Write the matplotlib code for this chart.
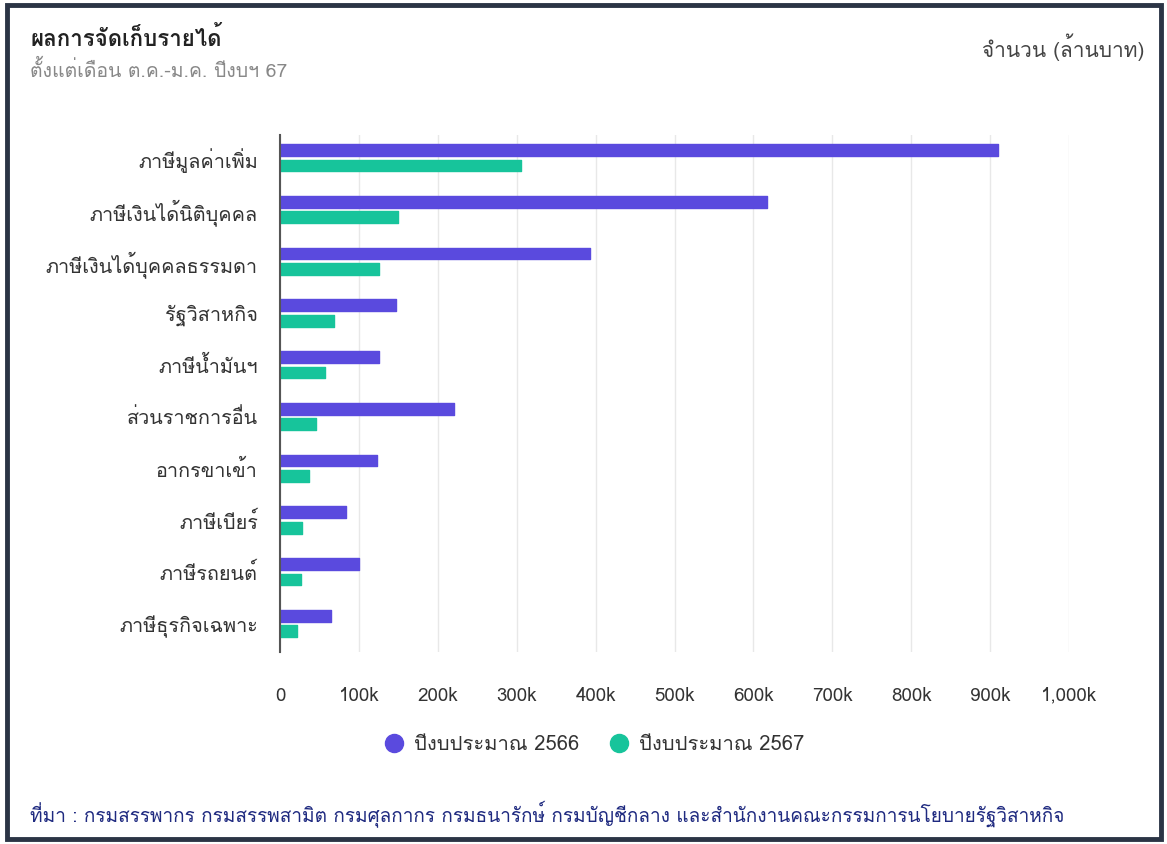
import numpy as np
import matplotlib
matplotlib.use("Agg")
import matplotlib.pyplot as plt
from matplotlib import font_manager
from matplotlib.ft2font import FT2Font
from matplotlib.patches import Rectangle
from matplotlib.ticker import FuncFormatter

# data (ล้านบาท)
categories = ["ภาษีมูลค่าเพิ่ม", "ภาษีเงินได้นิติบุคคล", "ภาษีเงินได้บุคคลธรรมดา", "รัฐวิสาหกิจ",
              "ภาษีน้ำมันฯ", "ส่วนราชการอื่น", "อากรขาเข้า", "ภาษีเบียร์", "ภาษีรถยนต์", "ภาษีธุรกิจเฉพาะ"]
fy2566 = [910000, 617000, 393000, 147000, 126000, 221000, 123000, 84000, 100000, 65000]
fy2567 = [306000, 150000, 126000, 69000, 57000, 46000, 37000, 28000, 26000, 22000]
series_names = ["ปีงบประมาณ 2566", "ปีงบประมาณ 2567"]
xticks = np.arange(0, 1000001, 100000)

purple = "#5a4ade"
green = "#17c49b"


# find a font that has Thai glyphs
def thai_font():
    for f in font_manager.fontManager.ttflist:
        try:
            if 0x0E01 in FT2Font(f.fname).get_charmap():
                return f.name
        except Exception:
            pass
    return None

tf = thai_font()
fams = ([tf] if tf else []) + ["DejaVu Sans"]
plt.rcParams["font.family"] = fams

fig = plt.figure(figsize=(11.67, 8.44), dpi=100)
W, H = 1167, 844

# outer frame
fig.patches.append(Rectangle((7 / W, 5 / H), 1 - 13 / W, 1 - 10 / H, transform=fig.transFigure,
                             fill=False, edgecolor="#2b3445", linewidth=3.5))

ax = fig.add_axes([280 / W, 1 - 652 / H, 789 / W, 517 / H])
y = np.arange(len(categories))
h = 0.23
ax.barh(y - 0.15, fy2566, height=h, color=purple, edgecolor=purple, linewidth=1, joinstyle="round", zorder=3)
ax.barh(y + 0.15, fy2567, height=h, color=green, edgecolor=green, linewidth=1, joinstyle="round", zorder=3)

ax.set_xlim(0, 1000000)
ax.set_ylim(9.55, -0.44)
ax.set_yticks(y)
ax.set_yticklabels(categories, fontsize=14.3, color="#333333")
ax.set_xticks(xticks)
ax.xaxis.set_major_formatter(FuncFormatter(lambda v, p: "0" if v == 0 else f"{int(v / 1000):,}k"))
ax.tick_params(axis="x", length=0, pad=25, labelsize=13.5, labelcolor="#333333")
ax.tick_params(axis="y", length=0, pad=16)
for s in ["top", "right", "bottom"]:
    ax.spines[s].set_visible(False)
ax.spines["left"].set_color("#555555")
ax.spines["left"].set_linewidth(1.5)
ax.spines["left"].set_zorder(4)
ax.grid(axis="x", color="#e8e8e8", linewidth=1, zorder=0)
ax.set_axisbelow(True)

# legend
handles = [plt.Line2D([], [], marker="o", linestyle="none", markersize=13, color=c) for c in (purple, green)]
fig.legend(handles, series_names, loc="center", bbox_to_anchor=(589 / W, 1 - 745 / H), ncol=2,
           frameon=False, fontsize=14.5, handletextpad=0.0, columnspacing=1.0, labelcolor="#333333")

# texts
fig.text(30 / W, 1 - 38 / H, "ผลการจัดเก็บรายได้", fontsize=16, fontweight="bold", color="#222222", va="center")
fig.text(30 / W, 1 - 70 / H, "ตั้งแต่เดือน ต.ค.-ม.ค. ปีงบฯ 67", fontsize=14, color="#888888", va="center")
fig.text(1145 / W, 1 - 47 / H, "จำนวน (ล้านบาท)", fontsize=15, color="#444444", va="center", ha="right")
fig.text(30 / W, 1 - 815 / H,
         "ที่มา : กรมสรรพากร กรมสรรพสามิต กรมศุลกากร กรมธนารักษ์ กรมบัญชีกลาง และสำนักงานคณะกรรมการนโยบายรัฐวิสาหกิจ",
         fontsize=13.7, color="#1f2a80", va="center")

fig.savefig("out.png", dpi=100)
